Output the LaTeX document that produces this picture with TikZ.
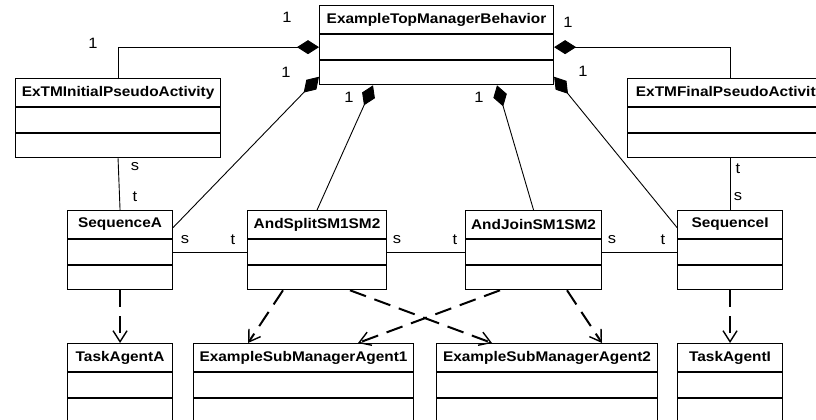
\documentclass[tikz,border=0pt]{standalone}
\usepackage{fontspec}
\setmainfont{Liberation Sans}
\newfontfamily\clsfont{Liberation Sans}[FakeStretch=1.1]
\usetikzlibrary{arrows.meta}
\tikzset{
  hdr/.style={draw, line width=1.1pt, inner sep=0pt, minimum height=28pt, anchor=north west,
    font=\clsfont\bfseries\fontsize{14}{16}\selectfont},
  cmp/.style={draw, line width=1.1pt, inner sep=0pt, anchor=north},
  lbl/.style={inner sep=0pt, font=\clsfont\fontsize{15}{17}\selectfont},
  assoc/.style={line width=0.9pt},
  compo/.style={line width=0.9pt, {Diamond[length=22pt,width=14pt]}-},
  dep/.style={line width=2pt, dash pattern=on 17pt off 9pt, -{Straight Barb[length=11pt,width=14pt,line width=1.4pt]}},
}
\newcommand\umlclass[5]{%
  \node[hdr, minimum width=#4] (#1) at (#2,#3) {#5};
  \node[cmp, minimum width=#4, minimum height=25pt] (#1-a) at (#1.south) {};
  \node[cmp, minimum width=#4, minimum height=24pt] (#1-b) at (#1-a.south) {};}
\begin{document}
\begin{tikzpicture}[x=1pt,y=-1pt]
\clip (0,0) rectangle (816,420);
\fill[white] (0,0) rectangle (816,420);
% classes
\umlclass{top}{319}{5}{234}{ExampleTopManagerBehavior}
\umlclass{init}{15}{78}{205}{ExTMInitialPseudoActivity}
\umlclass{final}{627}{78}{205}{ExTMFinalPseudoActivity}
\umlclass{seqA}{67}{210}{105}{SequenceA}
\umlclass{split}{247}{210}{139}{AndSplitSM1SM2}
\umlclass{join}{465}{210}{136}{AndJoinSM1SM2}
\umlclass{seqI}{677}{210}{105}{SequenceI}
\umlclass{taskA}{67}{343}{105}{TaskAgentA}
\umlclass{sub1}{193}{343}{220}{ExampleSubManagerAgent1}
\umlclass{sub2}{436}{343}{221}{ExampleSubManagerAgent2}
\umlclass{taskI}{677}{343}{105}{TaskAgentI}
% compositions
\draw[compo] (top-a.west) -| (init.north);
\draw[compo] (top-a.east) -| (final.north);
\draw[compo] ([yshift=-4pt]top-b.west) -- ([yshift=-3pt]seqA.east);
\draw[compo] ([yshift=-4pt]top-b.east) -- ([yshift=-3pt]seqI.west);
\draw[compo] ([xshift=54pt]top-b.south west) -- (split.north);
\draw[compo] ([xshift=178pt]top-b.south west) -- (join.north);
% associations
\draw[assoc] (init-b.south) -- (seqA.north);
\draw[assoc] (final-b.south) -- (seqI.north);
\draw[assoc] (seqA-a.east) -- (split-a.west);
\draw[assoc] (split-a.east) -- (join-a.west);
\draw[assoc] (join-a.east) -- (seqI-a.west);
% dependencies
\draw[dep] (seqA-b.south) -- (taskA.north);
\draw[dep] ([xshift=36pt]split-b.south west) -- ([xshift=55pt]sub1.north west);
\draw[dep] ([xshift=103pt]split-b.south west) -- ([xshift=56pt]sub2.north west);
\draw[dep] ([xshift=35pt]join-b.south west) -- ([xshift=165pt]sub1.north west);
\draw[dep] ([xshift=102pt]join-b.south west) -- ([xshift=166pt]sub2.north west);
\draw[dep] (seqI-b.south) -- (taskI.north);
% multiplicity labels
\node[lbl] (m1) at (93,43) {1};
\node[lbl] (m2) at (287,17) {1};
\node[lbl] (m3) at (286,72) {1};
\node[lbl] (m4) at (349,97) {1};
\node[lbl] (m5) at (479,97) {1};
\node[lbl] (m6) at (568,22) {1};
\node[lbl] (m7) at (583,71) {1};
% role labels
\node[lbl] (r1) at (135,167) {s};
\node[lbl] (r2) at (135,197) {t};
\node[lbl] (r3) at (738,169) {t};
\node[lbl] (r4) at (738,197) {s};
\node[lbl] (r5) at (185,240) {s};
\node[lbl] (r6) at (233,240) {t};
\node[lbl] (r7) at (397,240) {s};
\node[lbl] (r8) at (455,240) {t};
\node[lbl] (r9) at (612,240) {s};
\node[lbl] (r10) at (663,240) {t};
\end{tikzpicture}
\end{document}
